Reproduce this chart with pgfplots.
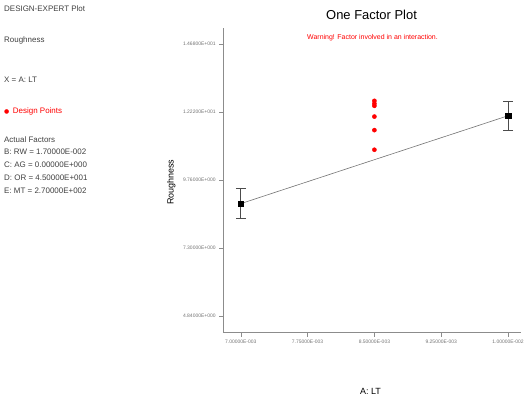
\documentclass[border=0pt]{standalone}
\usepackage{pgfplots}
\pgfplotsset{compat=1.18}
\usepackage{fontspec}
\setmainfont{Liberation Sans}
\newfontfamily\symfont{DejaVu Sans}
\begin{document}
\begin{tikzpicture}[x=1pt,y=1pt]
\path (0,0) rectangle (527,406);
% left panel text
\begin{scope}[every node/.style={anchor=base west,inner sep=0pt,font=\fontsize{8}{9}\selectfont,text=black!75}]
\node at (4,394) {DESIGN-EXPERT Plot};
\node at (4,363) {Roughness};
\node at (4,323) {X = A: LT};
\node[text=red] at (4,292) {{\symfont\fontsize{6}{7}\selectfont ●}\, Design Points};
\node at (4,263) {Actual Factors};
\node at (4,251) {B: RW = 1.70000E-002};
\node at (4,238) {C: AG = 0.00000E+000};
\node at (4,225) {D: OR = 4.50000E+001};
\node at (4,212) {E: MT = 2.70000E+002};
\end{scope}
\node[anchor=base,inner sep=0pt,font=\fontsize{13}{15}\selectfont] at (373,386) {One Factor Plot};
\node[anchor=base,inner sep=0pt,font=\fontsize{7}{8}\selectfont,text=red] at (374,366) {Warning! Factor involved in an interaction.};
\node[anchor=base,inner sep=0pt,font=\fontsize{9}{10}\selectfont] at (372,10) {A: LT};
\node[rotate=90,inner sep=0pt,font=\fontsize{9}{10}\selectfont] at (172,223) {Roughness};
\begin{axis}[
  at={(224pt,72pt)}, anchor=south west,
  scale only axis, width=299pt, height=306pt,
  xmin=0.006802, xmax=0.010145,
  ymin=4.23, ymax=15.26,
  axis x line=bottom, axis y line=left,
  axis line style={black!45,-},
  tick style={black!45},
  tick align=outside,
  major tick length=4pt,
  xtick={0.007,0.00775,0.0085,0.00925,0.010},
  xticklabels={7.00000E-003,7.75000E-003,8.50000E-003,9.25000E-003,1.00000E-002},
  ytick={4.84,7.30,9.76,12.22,14.68},
  yticklabels={4.84000E+000,7.30000E+000,9.76000E+000,1.22200E+001,1.46800E+001},
  tick label style={font=\fontsize{5}{6}\selectfont,text=black!55},
  scaled x ticks=false,
  clip=false,
]
\addplot[black!55, line width=0.6pt] coordinates {(0.007,8.90) (0.010,12.08)};
\addplot[only marks, mark=square*, mark size=2.8pt, black,
  error bars/.cd, y dir=both, y explicit,
  error bar style={black!70, line width=0.6pt},
  error mark options={rotate=90, mark size=5pt, black!70, line width=0.6pt}]
  coordinates {(0.007,8.90) +- (0,0.54) (0.010,12.08) +- (0,0.54)};
\addplot[only marks, mark=*, mark size=2.1pt, red] coordinates {
  (0.0085,12.62) (0.0085,12.52) (0.0085,12.44) (0.0085,12.05) (0.0085,11.56) (0.0085,10.85)};
\end{axis}
\end{tikzpicture}
\end{document}
